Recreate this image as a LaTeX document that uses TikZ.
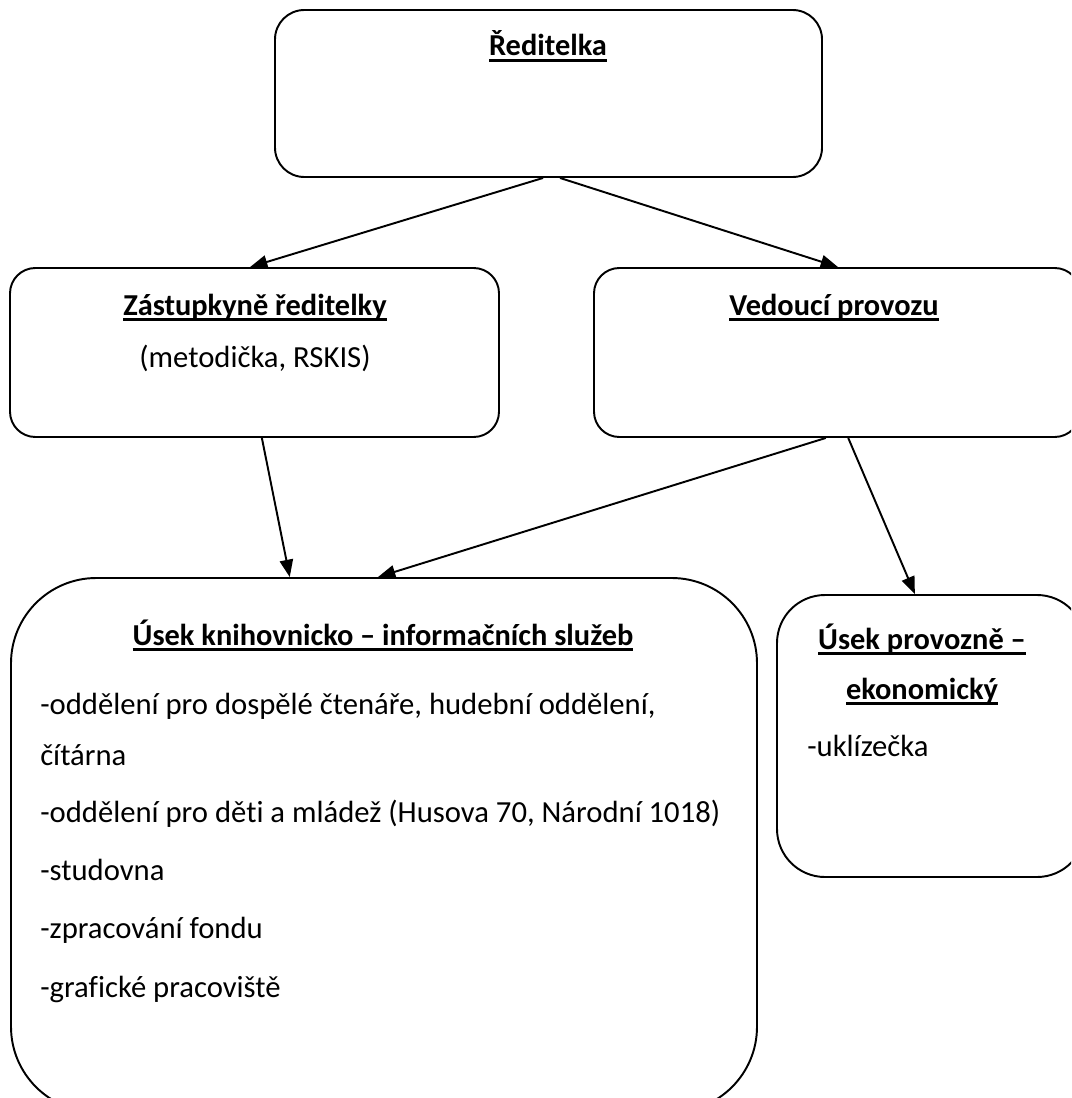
\documentclass[tikz,border=0pt]{standalone}
\usepackage{fontspec}
\setmainfont{Carlito}[Ligatures=NoCommon]
\usetikzlibrary{arrows.meta,calc}
\newsavebox{\ulbox}
\newcommand{\ul}[1]{\sbox{\ulbox}{#1}\rlap{\rule[-4.2pt]{\wd\ulbox}{1.6pt}}\usebox{\ulbox}}
\tikzset{
  box/.style={draw,line width=1.45pt,rectangle,inner sep=0pt},
  conn/.style={line width=1.45pt,-{Triangle[length=13pt,width=10pt]}},
  head/.style={anchor=base,font=\fontsize{22.8}{26}\selectfont\bfseries,inner sep=0pt},
  txt/.style={anchor=base west,font=\fontsize{23}{26}\selectfont,inner sep=0pt},
  ctxt/.style={anchor=base,font=\fontsize{23}{26}\selectfont,inner sep=0pt}
}
\begin{document}
\begin{tikzpicture}[x=0.75pt,y=-0.75pt]
\clip (0,0) rectangle (1071,1098);
\fill[white] (0,0) rectangle (1071,1098);
% boxes
\node[box,rounded corners=22pt,minimum width=547*0.75pt,minimum height=167*0.75pt] (dir) at (548.5,93.5) {};
\node[box,rounded corners=19pt,minimum width=489*0.75pt,minimum height=169*0.75pt] (dep) at (254.5,352.5) {};
\node[box,rounded corners=19pt,minimum width=486*0.75pt,minimum height=169*0.75pt] (ved) at (837,352.5) {};
\node[box,rounded corners=64pt,minimum width=746*0.75pt,minimum height=534*0.75pt] (kis) at (384,845) {};
\node[box,rounded corners=36pt,minimum width=308*0.75pt,minimum height=282*0.75pt] (pe) at (931,736) {};
% texts
\node[head] (t1) at (548,56) {\ul{Ředitelka}};
\node[head] (t2) at (255,315) {\ul{Zástupkyně ředitelky}};
\node[ctxt] (t3) at (255,367) {(metodička, RSKIS)};
\node[head] (t4) at (834,315) {\ul{Vedoucí provozu}};
\node[head] (t5) at (383,645) {\ul{Úsek knihovnicko – informačních služeb}};
\node[txt] (l1) at (40,714) {-oddělení pro dospělé čtenáře, hudební oddělení,};
\node[txt] (l2) at (40,765) {čítárna};
\node[txt] (l3) at (40,822) {-oddělení pro děti a mládež (Husova 70, Národní 1018)};
\node[txt] (l4) at (40,880) {-studovna};
\node[txt] (l5) at (40,938) {-zpracování fondu};
\node[txt] (l6) at (40,997) {-grafické pracoviště};
\node[head] (t6) at (922,649) {\ul{Úsek provozně –}};
\node[head] (t7) at (922,699) {\ul{ekonomický}};
\node[txt] (l7) at (807,756) {-uklízečka};
% connectors
\draw[conn] ($(dir.south west)!0.49!(dir.south east)$) -- ($(dep.north west)!0.491!(dep.north east)$);
\draw[conn] ($(dir.south west)!0.521!(dir.south east)$) -- ($(ved.north west)!0.502!(ved.north east)$);
\draw[conn] ($(dep.south west)!0.515!(dep.south east)$) -- ($(kis.north west)!0.374!(kis.north east)$);
\draw[conn] ($(ved.south west)!0.477!(ved.south east)$) -- ($(kis.north west)!0.492!(kis.north east)$);
\draw[conn] ($(ved.south west)!0.523!(ved.south east)$) -- ($(pe.north west)!0.448!(pe.north east)$);
\end{tikzpicture}
\end{document}
